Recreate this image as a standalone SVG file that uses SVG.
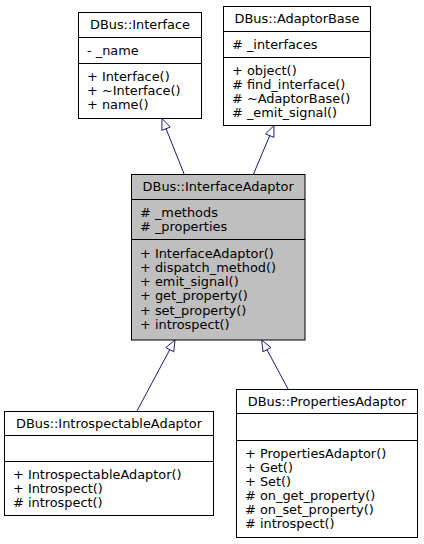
<svg xmlns="http://www.w3.org/2000/svg" width="424" height="544" viewBox="0 0 424 544">
<style>
  .box { fill: #ffffff; stroke: #000000; stroke-width: 1; }
  .root { fill: #bfbfbf; stroke: #000000; stroke-width: 1; }
  .div { stroke: #000000; stroke-width: 1; }
  text { font-family: "DejaVu Sans", sans-serif; font-size: 12.9px; fill: #000000; }
  .t { text-anchor: middle; }
  .edge { stroke: #191970; stroke-width: 1; fill: none; }
  .head { stroke: #191970; stroke-width: 1; fill: none; }
</style>
<rect width="424" height="544" fill="#ffffff"/>
<g id="connectors">
  <line class="edge" x1="184.3" y1="174.5" x2="166.07" y2="128.72"/>
  <polygon class="head" points="162,118.5 170.25,127.05 161.89,130.39"/>
  <line class="edge" x1="253.3" y1="174.5" x2="269.72" y2="135.63"/>
  <polygon class="head" points="274,125.5 273.86,137.38 265.58,133.88"/>
  <line class="edge" x1="136.7" y1="411.5" x2="169.78" y2="349.68"/>
  <polygon class="head" points="175,340 173.74,351.82 165.82,347.54"/>
  <line class="edge" x1="288.3" y1="389.5" x2="266.95" y2="349.67"/>
  <polygon class="head" points="261.7,340 270.91,347.52 262.99,351.82"/>
</g>
<g id="node-interface">
  <rect class="box" x="78.5" y="12.5" width="123" height="106"/>
  <line class="div" x1="78.5" y1="37.5" x2="201.5" y2="37.5"/>
  <line class="div" x1="78.5" y1="63.5" x2="201.5" y2="63.5"/>
  <text class="t" x="140" y="29">DBus::Interface</text>
  <text x="87" y="54.5">- _name</text>
  <text x="87" y="81">+ Interface()</text>
  <text x="87" y="95">+ ~Interface()</text>
  <text x="87" y="109">+ name()</text>
</g>
<g id="node-adaptorbase">
  <rect class="box" x="223.5" y="6.5" width="147" height="119"/>
  <line class="div" x1="223.5" y1="31.5" x2="370.5" y2="31.5"/>
  <line class="div" x1="223.5" y1="57.5" x2="370.5" y2="57.5"/>
  <text class="t" x="297" y="23">DBus::AdaptorBase</text>
  <text x="232" y="48.5"># _interfaces</text>
  <text x="232" y="74.5">+ object()</text>
  <text x="232" y="88.5"># find_interface()</text>
  <text x="232" y="102.5"># ~AdaptorBase()</text>
  <text x="232" y="116.5"># _emit_signal()</text>
</g>
<g id="node-interfaceadaptor">
  <rect class="root" x="131.5" y="174.5" width="173.5" height="165.5"/>
  <line class="div" x1="131.5" y1="199.5" x2="305" y2="199.5"/>
  <line class="div" x1="131.5" y1="239.5" x2="305" y2="239.5"/>
  <text class="t" x="218.2" y="191">DBus::InterfaceAdaptor</text>
  <text x="140" y="216.5"># _methods</text>
  <text x="140" y="230.5"># _properties</text>
  <text x="140" y="257.5">+ InterfaceAdaptor()</text>
  <text x="140" y="271.8">+ dispatch_method()</text>
  <text x="140" y="286.1">+ emit_signal()</text>
  <text x="140" y="300.4">+ get_property()</text>
  <text x="140" y="314.7">+ set_property()</text>
  <text x="140" y="329">+ introspect()</text>
</g>
<g id="node-introspectableadaptor">
  <rect class="box" x="4.5" y="411.5" width="209" height="104"/>
  <line class="div" x1="4.5" y1="435.5" x2="213.5" y2="435.5"/>
  <line class="div" x1="4.5" y1="461.5" x2="213.5" y2="461.5"/>
  <text class="t" x="109" y="427.5">DBus::IntrospectableAdaptor</text>
  <text x="13" y="478.5">+ IntrospectableAdaptor()</text>
  <text x="13" y="492.5">+ Introspect()</text>
  <text x="13" y="506.5"># introspect()</text>
</g>
<g id="node-propertiesadaptor">
  <rect class="box" x="236.5" y="389.5" width="181" height="148"/>
  <line class="div" x1="236.5" y1="413.5" x2="417.5" y2="413.5"/>
  <line class="div" x1="236.5" y1="440.5" x2="417.5" y2="440.5"/>
  <text class="t" x="327" y="405.5">DBus::PropertiesAdaptor</text>
  <text x="245" y="457.5">+ PropertiesAdaptor()</text>
  <text x="245" y="471.6">+ Get()</text>
  <text x="245" y="485.7">+ Set()</text>
  <text x="245" y="499.8"># on_get_property()</text>
  <text x="245" y="513.9"># on_set_property()</text>
  <text x="245" y="528"># introspect()</text>
</g>
</svg>
